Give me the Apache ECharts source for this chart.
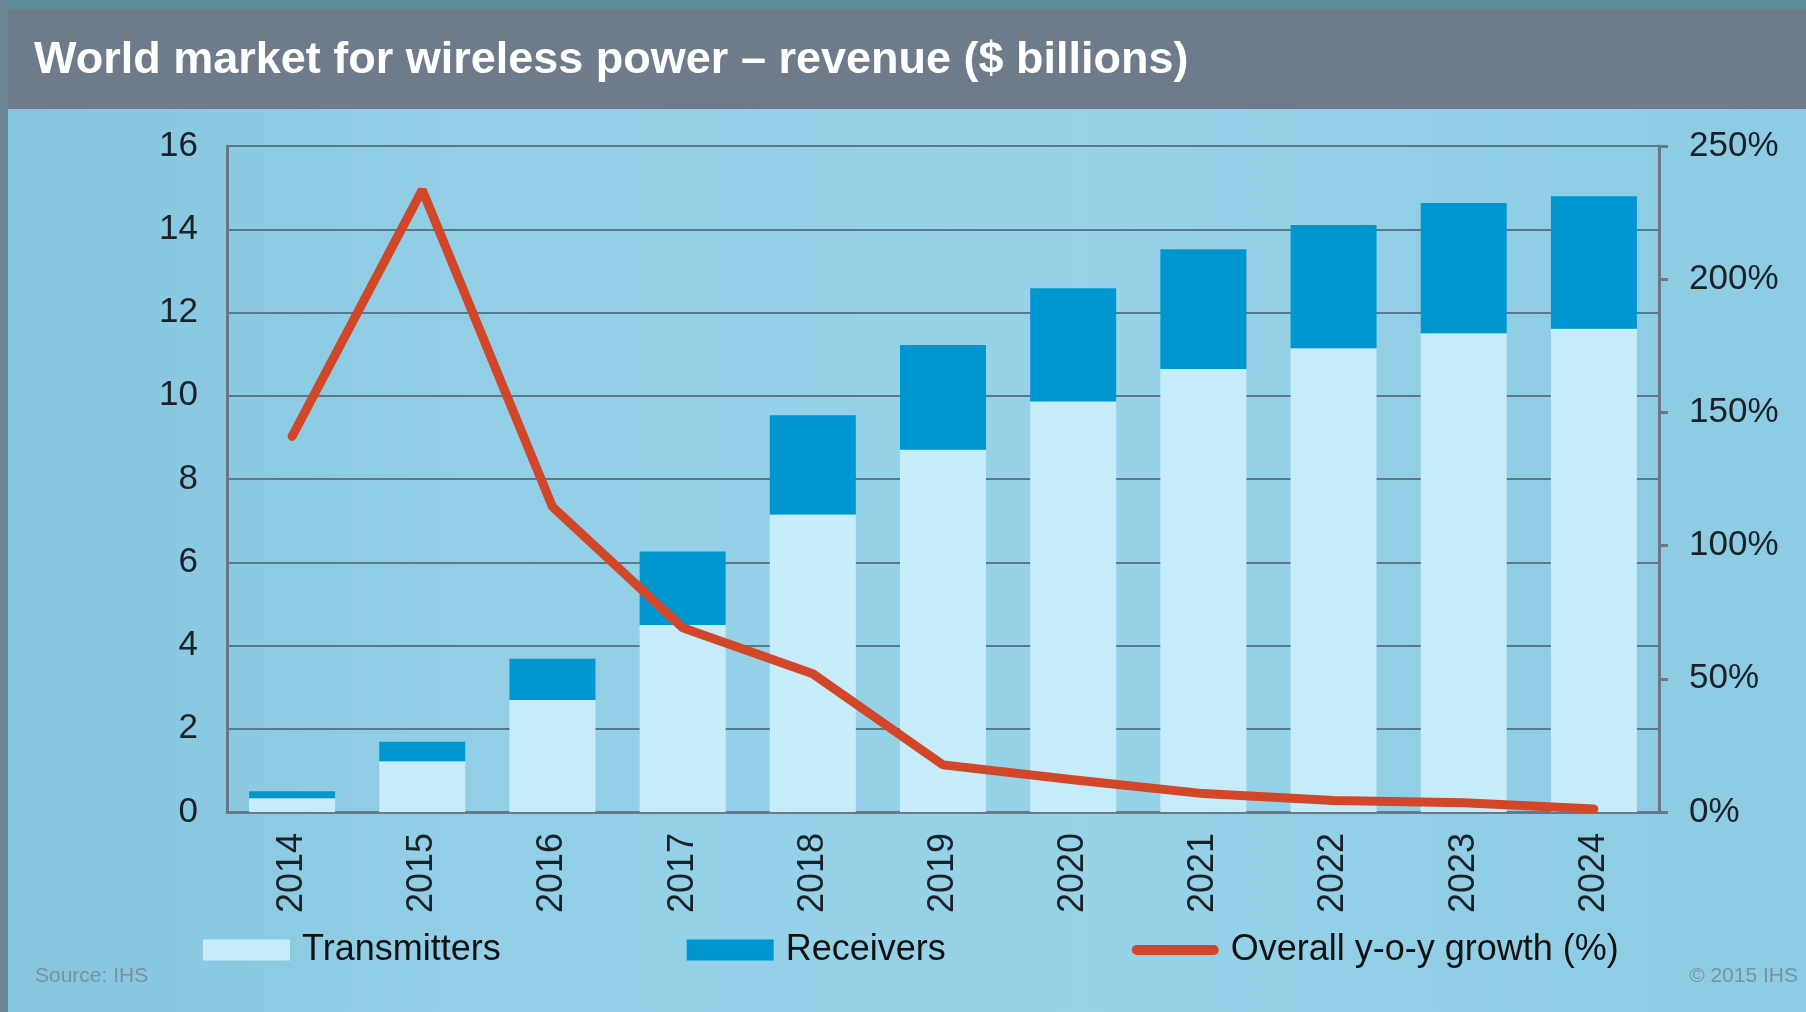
<!DOCTYPE html>
<html>
<head>
<meta charset="utf-8">
<script src="https://cdn.jsdelivr.net/npm/echarts@6/dist/echarts.min.js"></script>
<style>
  html, body { margin: 0; padding: 0; }
  #chart { width: 1806px; height: 1012px; }
</style>
</head>
<body>
<div id="chart"></div>
<script>
const years = ["2014", "2015", "2016", "2017", "2018", "2019", "2020", "2021", "2022", "2023", "2024"];
const transmitters = [0.33, 1.22, 2.69, 4.49, 7.15, 8.7, 9.86, 10.64, 11.14, 11.5, 11.61];
const receivers = [0.17, 0.47, 0.99, 1.77, 2.38, 2.52, 2.72, 2.88, 2.96, 3.13, 3.18];
const growth = [141, 233.5, 114.6, 69.2, 51.9, 17.7, 12.1, 6.9, 4.3, 3.5, 1.1];

const font = "Liberation Sans, Arial, sans-serif";
const axisGray = "#6b7787";
const lineRed = "#d2472a";

const chart = echarts.init(document.getElementById("chart"));

chart.setOption({
  backgroundColor: {
    type: "linear", x: 0, y: 0, x2: 1, y2: 0,
    colorStops: [
      { offset: 0, color: "#84c4dd" },
      { offset: 0.25, color: "#92cfe6" },
      { offset: 0.6, color: "#97d2e8" },
      { offset: 1, color: "#8ccbe3" },
    ],
  },
  textStyle: { fontFamily: font },
  graphic: [
    { type: "rect", shape: { x: 0, y: 0, width: 1806, height: 9 }, style: { fill: "#5e8b98" }, silent: true },
    { type: "rect", shape: { x: 0, y: 9, width: 1806, height: 100 }, style: { fill: "#6e7b8a" }, silent: true },
    { type: "rect", shape: { x: 0, y: 0, width: 8, height: 1012 }, style: { fill: "#6b8796" }, silent: true },
    {
      type: "text", left: 35, top: 977 - 11,
      style: { text: "Source: IHS", fill: "#7a90a2", font: "21px " + font },
    },
    {
      type: "text", right: 8, top: 977 - 11,
      style: { text: "© 2015 IHS", fill: "#7a90a2", font: "21px " + font },
    },
  ],
  title: {
    text: "World market for wireless power – revenue ($ billions)",
    left: 34,
    top: 38,
    padding: 0,
    textStyle: { color: "#ffffff", fontSize: 45, fontWeight: "bold", fontFamily: font },
  },
  legend: {
    left: 198,
    top: 927,
    itemWidth: 87,
    itemHeight: 21,
    itemGap: 186,
    textStyle: { fontSize: 36, color: "#111", fontFamily: font, padding: [0, 0, 0, 7] },
    data: [
      { name: "Transmitters", icon: "rect" },
      { name: "Receivers", icon: "rect" },
      {
        name: "Overall y-o-y growth (%)",
        icon: "path://M5,0 L82,0 A5,5 0 0 1 82,10 L5,10 A5,5 0 0 1 5,0 Z",
        itemStyle: { color: lineRed },
      },
    ],
  },
  grid: { left: 227, right: 147, top: 146, bottom: 200 },
  xAxis: {
    type: "category",
    data: years,
    axisLine: { lineStyle: { color: axisGray, width: 3 } },
    axisTick: { inside: true, length: 9, lineStyle: { color: axisGray, width: 3 } },
    axisLabel: { rotate: 90, fontSize: 36, color: "#1a2228", margin: 21 },
  },
  yAxis: [
    {
      type: "value",
      min: 0, max: 16, interval: 2,
      axisLine: { show: true, lineStyle: { color: axisGray, width: 3 } },
      axisTick: { show: false },
      axisLabel: { fontSize: 35, color: "#1a2228", margin: 29 },
      splitLine: { lineStyle: { color: "#5c778b", width: 2 } },
    },
    {
      type: "value",
      min: 0, max: 250, interval: 50,
      position: "right",
      axisLine: { show: true, lineStyle: { color: axisGray, width: 3 } },
      axisTick: { show: true, length: 9, lineStyle: { color: axisGray, width: 3 } },
      axisLabel: { fontSize: 35, color: "#1a2228", margin: 30, formatter: "{value}%" },
      splitLine: { show: false },
    },
  ],
  series: [
    {
      name: "Transmitters",
      type: "bar",
      stack: "rev",
      barWidth: 86,
      itemStyle: { color: "#c6ecfa" },
      data: transmitters,
    },
    {
      name: "Receivers",
      type: "bar",
      stack: "rev",
      barWidth: 86,
      itemStyle: { color: "#0096d0" },
      data: receivers,
    },
    {
      name: "Overall y-o-y growth (%)",
      type: "line",
      yAxisIndex: 1,
      symbol: "none",
      itemStyle: { color: lineRed },
      lineStyle: { color: lineRed, width: 9, cap: "round" },
      data: growth,
    },
  ],
});
</script>
</body>
</html>
